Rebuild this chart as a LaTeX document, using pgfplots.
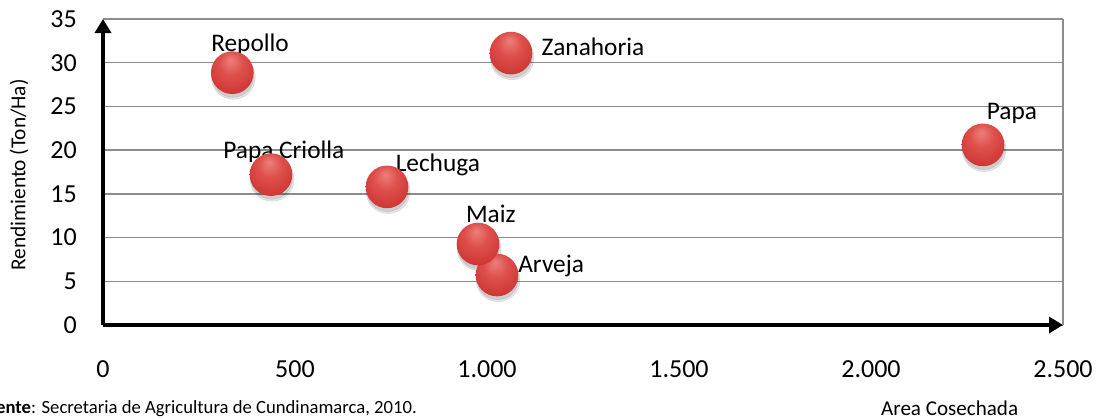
\documentclass[border=0pt]{standalone}
\usepackage{fontspec}
\setmainfont{Carlito}
\usepackage{pgfplots}
\usepackage{pgfplotstable}
\pgfplotsset{compat=1.18}
\usetikzlibrary{arrows.meta}
\definecolor{bhl}{RGB}{236,128,122}
\definecolor{bmidA}{RGB}{222,80,76}
\definecolor{bmid}{RGB}{205,52,50}
\definecolor{bdark}{RGB}{165,32,30}
\definecolor{gridgray}{RGB}{140,140,140}
\pgfdeclareradialshading{bubble}{\pgfpoint{-2bp}{15bp}}{color(0bp)=(bhl); color(14bp)=(bmidA); color(32bp)=(bmid); color(46bp)=(bdark); color(50bp)=(bdark)}
\pgfdeclareplotmark{bubble}{\pgfpathcircle{\pgfpointorigin}{\pgfplotmarksize}\pgfshadepath{bubble}{0}\pgfusepath{}}
\pgfplotstableread{
x y
336.7 28.86
437.5 17.2
739.6 15.8
1026 5.72
976.6 9.26
1062.5 31.1
2291.7 20.6
}\bubbles
\begin{document}
\begin{tikzpicture}
\begin{axis}[
  at={(0,0)}, anchor=south west,
  scale only axis, width=720pt, height=229.5pt,
  xmin=0, xmax=2500, ymin=0, ymax=35,
  enlargelimits=false, clip=false,
  axis lines=left,
  axis line style={line width=2.8pt, black, -{Triangle[length=10.5pt,width=12pt]}},
  xtick={0,500,...,2500}, ytick={0,5,...,35},
  extra x ticks={2500}, extra x tick labels={},
  extra x tick style={xmajorgrids=true, major grid style={gridgray, line width=1.1pt}},
  ymajorgrids=true,
  major grid style={gridgray, line width=1.1pt},
  major tick length=0pt,
  scaled x ticks=false, scaled y ticks=false,
  /pgf/number format/.cd, 1000 sep={.}, assume math mode=true, /pgfplots/.cd,
  xticklabel style={anchor=base, inner sep=0pt, yshift=-39pt, font=\fontsize{19.5}{20}\selectfont},
  yticklabel style={anchor=east, inner sep=0pt, xshift=-19.5pt, font=\fontsize{19.5}{20}\selectfont},
]
\addplot[only marks, mark=*, mark size=16.5pt, opacity=0.10, mark options={draw=none, fill=black, yshift=-3.5pt, xshift=0.8pt}] table {\bubbles};
\addplot[only marks, mark=*, mark size=15.5pt, opacity=0.10, mark options={draw=none, fill=black, yshift=-3pt, xshift=0.5pt}] table {\bubbles};
\addplot[only marks, mark=bubble, mark size=16pt] table {\bubbles};
\begin{scope}[every node/.style={anchor=base, inner sep=0pt, font=\fontsize{19}{20}\selectfont}]
\node at (axis cs:383,31.34) {Repollo};
\node at (axis cs:471,19.1) {Papa Criolla};
\node at (axis cs:872,17.61) {Lechuga};
\node at (axis cs:1010,11.67) {Maiz};
\node at (axis cs:1167,5.95) {Arveja};
\node at (axis cs:1276,30.8) {Zanahoria};
\node at (axis cs:2367,23.56) {Papa};
\end{scope}
\end{axis}
\node[rotate=90, inner sep=0pt, font=\fontsize{16}{17}\selectfont] at (-63pt,112.5pt) {Rendimiento (Ton/Ha)};
\node[anchor=base east, inner sep=0pt, font=\fontsize{14}{15}\selectfont] at (235.5pt,-66pt) {\textbf{Fuente}: Secretaria de Agricultura de Cundinamarca, 2010.};
\node[anchor=base, inner sep=0pt, font=\fontsize{15.8}{16}\selectfont] at (635pt,-67.5pt) {Area Cosechada};
\pgfresetboundingbox
\path (-77.25pt,-70.5pt) rectangle (745.5pt,243.75pt);
\end{tikzpicture}
\end{document}
